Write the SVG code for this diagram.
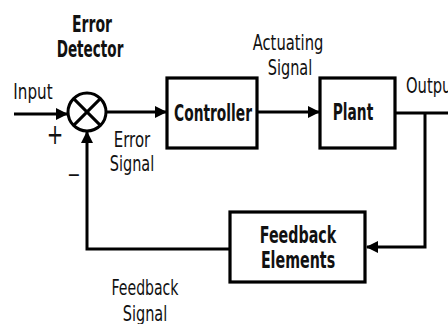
<svg xmlns="http://www.w3.org/2000/svg" width="448" height="324" viewBox="0 0 448 324">
<style>
.ln{fill:none;stroke:#000;stroke-width:3}
.box{fill:#fff;stroke:#000;stroke-width:3.2}
.b{font-family:"DejaVu Sans",sans-serif;font-weight:bold;font-size:23px;fill:#111;text-anchor:middle}
.r{font-family:"DejaVu Sans",sans-serif;font-size:22px;fill:#111;text-anchor:middle}
</style>
<defs>
<marker id="ah" markerWidth="12" markerHeight="12" viewBox="0 0 12 12" refX="11" refY="6" orient="auto" markerUnits="userSpaceOnUse">
<path d="M0,0 L12,6 L0,12 Z" fill="#000"/>
</marker>
</defs>
<rect width="448" height="324" fill="#fff"/>
<g id="connectors">
<line class="ln" x1="14" y1="114" x2="67" y2="114" marker-end="url(#ah)"/>
<line class="ln" x1="106" y1="112" x2="166" y2="112" marker-end="url(#ah)"/>
<line class="ln" x1="257" y1="112" x2="319" y2="112" marker-end="url(#ah)"/>
<polyline class="ln" points="395,113 448,113"/>
<polyline class="ln" points="425,113 425,247 367,247" marker-end="url(#ah)"/>
<polyline class="ln" points="230,249 87,249 87,132" marker-end="url(#ah)"/>
</g>
<g id="error-detector">
<circle cx="87" cy="112" r="19" class="ln"/>
<line class="ln" x1="73.6" y1="98.6" x2="100.4" y2="125.4" stroke-width="2"/>
<line class="ln" x1="100.4" y1="98.6" x2="73.6" y2="125.4" stroke-width="2"/>
<text class="b" transform="translate(92,32) scale(0.61,1)">Error</text>
<text class="b" transform="translate(90,57) scale(0.59,1)">Detector</text>
</g>
<g id="controller">
<rect class="box" x="167" y="78" width="90" height="70"/>
<text class="b" transform="translate(213,121) scale(0.6,1)">Controller</text>
</g>
<g id="plant">
<rect class="box" x="320" y="78" width="75" height="70"/>
<text class="b" transform="translate(353,120) scale(0.6,1)">Plant</text>
</g>
<g id="feedback-elements">
<rect class="box" x="230" y="212" width="135" height="70"/>
<text class="b" transform="translate(298,243) scale(0.62,1)">Feedback</text>
<text class="b" transform="translate(298,268) scale(0.62,1)">Elements</text>
</g>
<g id="labels">
<text class="r" transform="translate(33,99) scale(0.69,1)">Input</text>
<text class="r" transform="translate(55,144) scale(0.9,1.3)" font-size="24">+</text>
<text class="r" transform="translate(74,182) scale(0.72,1)" font-size="28">−</text>
<text class="r" transform="translate(132,147) scale(0.68,1)">Error</text>
<text class="r" transform="translate(132,171) scale(0.66,1)">Signal</text>
<text class="r" transform="translate(288,50) scale(0.67,1)">Actuating</text>
<text class="r" transform="translate(290,75) scale(0.66,1)">Signal</text>
<text class="r" transform="translate(406,93) scale(0.67,1)" style="text-anchor:start">Output</text>
<text class="r" transform="translate(145,295) scale(0.64,1)">Feedback</text>
<text class="r" transform="translate(145,321) scale(0.66,1)">Signal</text>
</g>
</svg>
